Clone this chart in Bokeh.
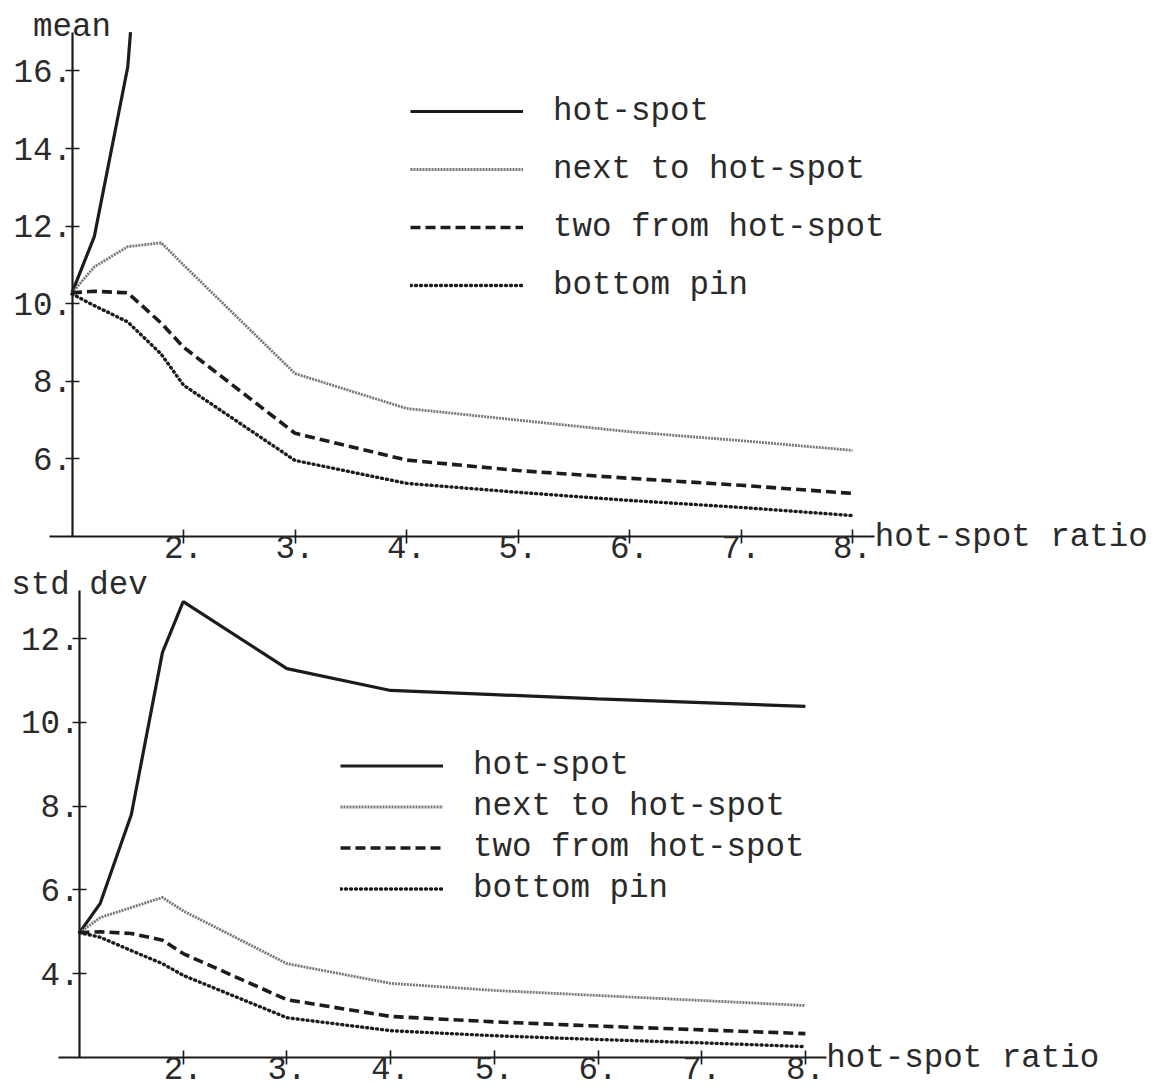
from bokeh.plotting import figure
from bokeh.models import (Range1d, FixedTicker, PrintfTickFormatter, Label, Legend,
                          LegendItem, LinearAxis)
from bokeh.embed import file_html
from bokeh.resources import INLINE

# ---- data ----
ratio = [1, 1.2, 1.5, 1.8, 2, 3, 4, 5, 6, 7, 8]

mean_hot_x = [1, 1.2, 1.5, 1.8]
mean_hot = [10.28, 11.73, 16.1, 27.0]
mean_next = [10.28, 10.95, 11.47, 11.57, 11.0, 8.2, 7.3, 7.0, 6.7, 6.47, 6.22]
mean_two = [10.28, 10.32, 10.28, 9.5, 8.88, 6.66, 5.97, 5.7, 5.5, 5.32, 5.11]
mean_bottom = [10.25, 9.95, 9.53, 8.7, 7.9, 5.96, 5.37, 5.14, 4.93, 4.75, 4.54]

std_hot = [4.98, 5.68, 7.8, 11.67, 12.88, 11.28, 10.76, 10.66, 10.56, 10.47, 10.38]
std_next = [4.98, 5.34, 5.58, 5.82, 5.5, 4.24, 3.77, 3.6, 3.48, 3.36, 3.24]
std_two = [4.98, 5.0, 4.96, 4.8, 4.48, 3.38, 2.98, 2.85, 2.75, 2.66, 2.57]
std_bottom = [4.98, 4.87, 4.55, 4.24, 3.96, 2.95, 2.64, 2.52, 2.43, 2.35, 2.26]

series_names = ["hot-spot", "next to hot-spot", "two from hot-spot", "bottom pin"]
x_ticks = [2, 3, 4, 5, 6, 7, 8]
mean_y_ticks = [6, 8, 10, 12, 14, 16]
std_y_ticks = [4, 6, 8, 10, 12]

# ---- layout / style ----
W, H = 1160, 1088
FONT = "Liberation Mono"
FS = "32.5px"
TXT = "#2a2a2a"

STYLES = [
    dict(line_color="#1c1c1c", line_width=3.2),
    dict(line_color="#777777", line_width=2.8, line_dash="2 1"),
    dict(line_color="#1c1c1c", line_width=3.6, line_dash="10 5"),
    dict(line_color="#1c1c1c", line_width=3.4, line_dash="1 4", line_cap="round"),
]

p = figure(width=W, height=H, output_backend="svg", toolbar_location=None,
           x_axis_location=None, y_axis_location=None, min_border=0,
           x_range=Range1d(0, 1), y_range=Range1d(0, 1))
p.grid.visible = False
p.outline_line_color = None
p.background_fill_color = "white"


def clip_top(xs, ys, top):
    """Cut a series where it leaves the plotted range (as the original plot did)."""
    ox, oy = [xs[0]], [ys[0]]
    for i in range(1, len(xs)):
        if ys[i] <= top:
            ox.append(xs[i]); oy.append(ys[i])
        else:
            t = (top - ys[i - 1]) / (ys[i] - ys[i - 1])
            ox.append(xs[i - 1] + t * (xs[i] - xs[i - 1])); oy.append(top)
            break
    return ox, oy


def add_panel(name, px_per_x, x1_px, px_per_y, ybase_px, xr, yr, yticks, ylabel,
              series, legend_xy, glyph_w, row_h):
    # ranges placing x=1 at x1_px (from left) and y=yr[0] at ybase_px (from top)
    xs0 = 1 - x1_px / px_per_x
    ys0 = yr[0] - (H - ybase_px) / px_per_y
    p.extra_x_ranges[name] = Range1d(xs0, xs0 + W / px_per_x)
    p.extra_y_ranges[name] = Range1d(ys0, ys0 + H / px_per_y)

    xa = LinearAxis(ticker=FixedTicker(ticks=x_ticks), bounds=xr,
                    formatter=PrintfTickFormatter(format="%d."), fixed_location=yr[0],
                    x_range_name=name, y_range_name=name)
    ya = LinearAxis(ticker=FixedTicker(ticks=yticks), bounds=yr,
                    formatter=PrintfTickFormatter(format="%d."), fixed_location=1,
                    x_range_name=name, y_range_name=name)
    for ax in (xa, ya):
        ax.axis_line_color = "#1a1a1a"
        ax.axis_line_width = 2.2
        ax.major_tick_line_color = "#1a1a1a"
        ax.major_tick_line_width = 1.6
        ax.major_tick_in = 7
        ax.major_tick_out = 7
        ax.minor_tick_line_color = None
        ax.major_label_text_font = FONT
        ax.major_label_text_font_size = FS
        ax.major_label_text_color = TXT
    xa.major_label_standoff = -8
    ya.major_label_standoff = -7
    p.add_layout(xa, "below")
    p.add_layout(ya, "left")

    p.add_layout(Label(x=1, y=yr[1], text=ylabel, text_align="center",
                       text_baseline="alphabetic", y_offset=5, text_font=FONT,
                       text_font_size=FS, text_color=TXT,
                       x_range_name=name, y_range_name=name))
    p.add_layout(Label(x=xr[1], y=yr[0], text="hot-spot ratio", text_align="left",
                       text_baseline="middle", x_offset=0, y_offset=-1, text_font=FONT,
                       text_font_size=FS, text_color=TXT,
                       x_range_name=name, y_range_name=name))

    items = []
    for label, (sx, sy), st in zip(series_names, series, STYLES):
        sx, sy = clip_top(sx, sy, yr[1])
        r = p.line(sx, sy, x_range_name=name, y_range_name=name, **st)
        items.append(LegendItem(label=label, renderers=[r]))

    gx, box_bottom_px = legend_xy
    leg = Legend(items=items, location=(gx, H - box_bottom_px), padding=0, margin=0,
                 spacing=0, glyph_width=glyph_w, glyph_height=row_h, label_height=row_h,
                 label_standoff=30, label_text_font=FONT, label_text_font_size=FS,
                 label_text_color=TXT, border_line_color=None, background_fill_alpha=0)
    p.add_layout(leg)


add_panel("mean", px_per_x=111.5, x1_px=71.5, px_per_y=38.8, ybase_px=536,
          xr=(0.8, 8.2), yr=(4.0, 17.0), yticks=mean_y_ticks, ylabel="mean",
          series=[(mean_hot_x, mean_hot), (ratio, mean_next), (ratio, mean_two),
                  (ratio, mean_bottom)],
          legend_xy=(410, 314), glyph_w=113, row_h=58)

add_panel("std", px_per_x=103.7, x1_px=79, px_per_y=41.9, ybase_px=1057,
          xr=(0.8, 8.2), yr=(2.0, 13.15), yticks=std_y_ticks, ylabel="std dev",
          series=[(ratio, std_hot), (ratio, std_next), (ratio, std_two),
                  (ratio, std_bottom)],
          legend_xy=(340, 908.5), glyph_w=103, row_h=41)

open("out.html", "w").write(file_html(p, INLINE))
